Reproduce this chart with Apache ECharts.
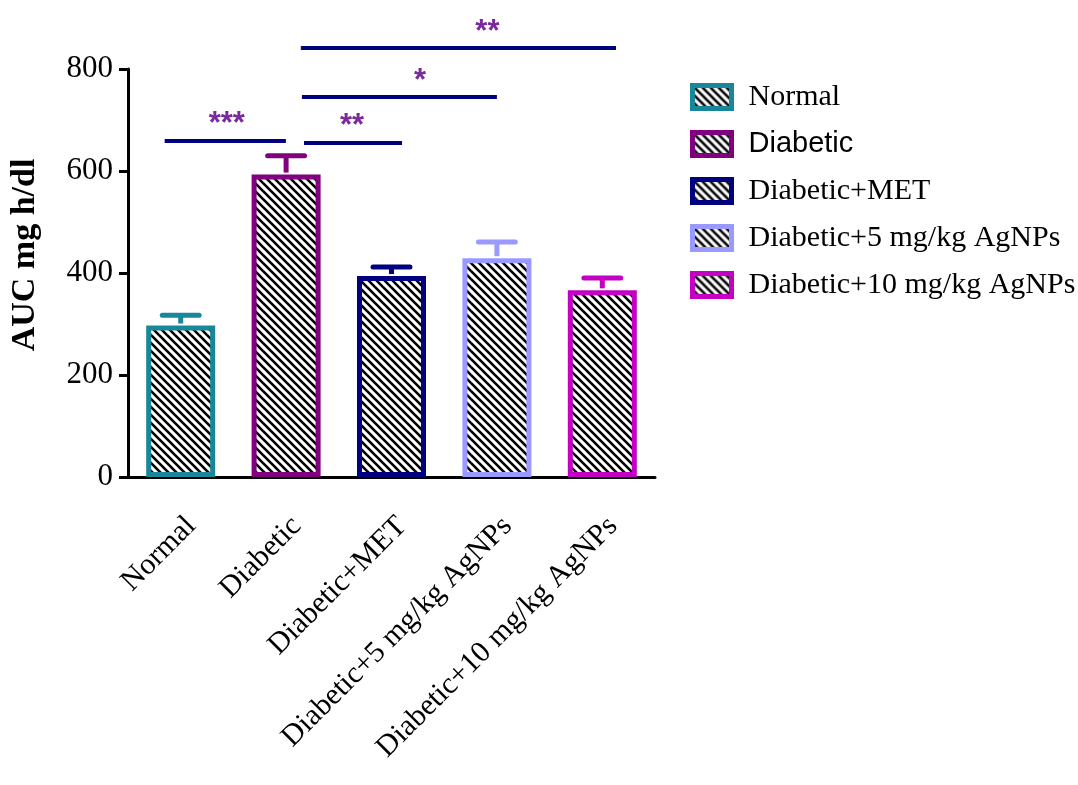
<!DOCTYPE html>
<html>
<head>
<meta charset="utf-8">
<script src="https://cdn.jsdelivr.net/npm/echarts@6/dist/echarts.min.js"></script>
<style>
html,body{margin:0;padding:0;background:#fff;}
#chart{width:1078px;height:785px;}
</style>
</head>
<body>
<div id="chart"></div>
<script>
// ---- data ----
const categories = ['Normal', 'Diabetic', 'Diabetic+MET', 'Diabetic+5 mg/kg AgNPs', 'Diabetic+10 mg/kg AgNPs'];
const means = [297, 593, 394, 429, 366];
const errors = [20, 37, 18, 32, 24];
const colors = ['#19879A', '#800080', '#000080', '#9999FF', '#C400C4'];
const yTicks = { min: 0, max: 800, interval: 200 };
// significance brackets: start/end category, bar height value, label
const bracketFrom = [0, 1, 1, 1];
const bracketTo = [1, 2, 3, 4];
const bracketValue = [659, 655, 745, 841];
const bracketLabel = ['***', '**', '*', '**'];

// ---- style helpers ----
const SERIF = 'Liberation Serif';
function makeHatch() {
  const s = 8;
  const c = document.createElement('canvas');
  c.width = s; c.height = s;
  const g = c.getContext('2d');
  g.fillStyle = '#fff'; g.fillRect(0, 0, s, s);
  g.strokeStyle = '#000'; g.lineWidth = 2.6;
  for (let k = -1; k <= 1; k++) {
    g.beginPath();
    g.moveTo(k * s - 2, -2);
    g.lineTo(k * s + s + 2, s + 2);
    g.stroke();
  }
  return c;
}
const hatch = { image: makeHatch(), repeat: 'repeat' };

// bracket layout (fractions of a category band) kept separate from data
const bracketStartOff = [-0.152, 0.17, 0.15, 0.14];
const bracketEndOff = [-0.002, 0.10, 0.0, 0.13];
const starPos = [0.437, 1.625, 2.27, 2.91];

const barSeries = categories.map((name, i) => ({
  name: name,
  type: 'bar',
  barWidth: 69,
  barGap: '-100%',
  data: categories.map((c, j) => (j === i ? means[j] : '-')),
  itemStyle: { color: hatch, borderColor: colors[i], borderWidth: 5 },
  z: 2
}));

const errSeries = {
  type: 'custom',
  name: 'err',
  z: 3,
  data: means.map((m, i) => [i, m, errors[i]]),
  encode: { x: 0, y: 1 },
  renderItem: function (params, api) {
    const i = api.value(0);
    const m = api.value(1);
    const e = api.value(2);
    const base = api.coord([i, m]);
    const top = api.coord([i, m + e]);
    const band = api.size([1, 0])[0];
    const hw = band * 0.175;
    const col = colors[i];
    return {
      type: 'group',
      children: [
        { type: 'line', shape: { x1: base[0], y1: base[1] - 2, x2: top[0], y2: top[1] },
          style: { stroke: col, lineWidth: 5 } },
        { type: 'line', shape: { x1: top[0] - hw, y1: top[1], x2: top[0] + hw, y2: top[1] },
          style: { stroke: col, lineWidth: 5, lineCap: 'round' } }
      ]
    };
  }
};

const bracketSeries = {
  type: 'custom',
  name: 'sig',
  z: 4,
  clip: false,
  data: bracketValue.map((v, k) => [0, v, k]),
  encode: { x: 0, y: 1 },
  renderItem: function (params, api) {
    const v = api.value(1);
    const k = api.value(2);
    const p0 = api.coord([0, v]);
    const band = api.size([1, 0])[0];
    const x1 = p0[0] + (bracketFrom[k] + bracketStartOff[k]) * band;
    const x2 = p0[0] + (bracketTo[k] + bracketEndOff[k]) * band;
    const xs = p0[0] + starPos[k] * band;
    return {
      type: 'group',
      children: [
        { type: 'line', shape: { x1: x1, y1: p0[1], x2: x2, y2: p0[1] },
          style: { stroke: '#000080', lineWidth: 4 } },
        { type: 'text', x: xs, y: p0[1] - 16,
          style: { text: bracketLabel[k], fill: '#7B2A9E', font: 'bold 31px "Liberation Sans"',
                   align: 'center', verticalAlign: 'middle' } }
      ]
    };
  }
};

const chart = echarts.init(document.getElementById('chart'), null, { renderer: 'canvas' });
chart.setOption({
  backgroundColor: '#fff',
  animation: false,
  grid: { left: 128, top: 69, width: 527, height: 408 },
  legend: {
    orient: 'vertical',
    left: 690,
    top: 82,
    padding: 0,
    itemWidth: 39,
    itemHeight: 23,
    itemGap: 17,
    icon: 'rect',
    itemStyle: { borderWidth: 5 },
    textStyle: { fontFamily: SERIF, fontSize: 30, color: '#000', lineHeight: 30, padding: [0, 0, 0, 12] },
    data: categories.map((c) => c === 'Diabetic'
      ? { name: c, textStyle: { fontFamily: 'Liberation Sans', fontSize: 29 } }
      : { name: c })
  },
  xAxis: {
    type: 'category',
    data: categories,
    axisLine: { lineStyle: { color: '#000', width: 3 } },
    axisTick: { alignWithLabel: true, length: 11, lineStyle: { color: '#000', width: 3 } },
    axisLabel: {
      rotate: 45, interval: 0, margin: 34, align: 'right', verticalAlign: 'top', lineHeight: 30,
      fontFamily: SERIF, fontSize: 30, color: '#000'
    }
  },
  yAxis: {
    type: 'value',
    min: yTicks.min, max: yTicks.max, interval: yTicks.interval,
    name: 'AUC mg h/dl',
    nameLocation: 'middle',
    nameGap: 86,
    nameTextStyle: { fontFamily: SERIF, fontWeight: 'bold', fontSize: 34, color: '#000', padding: [0, 0, 0, 36] },
    axisLine: { show: true, lineStyle: { color: '#000', width: 3 } },
    axisTick: { show: true, length: 9, lineStyle: { color: '#000', width: 3 } },
    splitLine: { show: false },
    axisLabel: { fontFamily: SERIF, fontSize: 31, color: '#000', margin: 15 }
  },
  series: barSeries.concat([errSeries, bracketSeries])
});
</script>
</body>
</html>
